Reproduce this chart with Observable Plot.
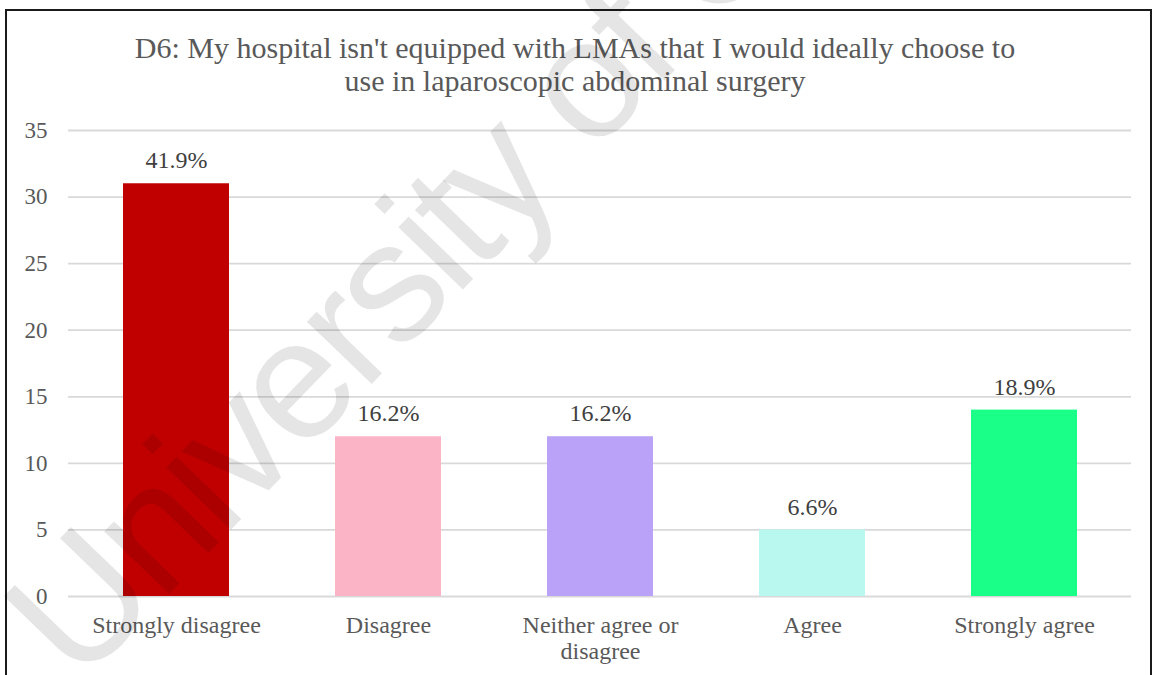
<!DOCTYPE html>
<html>
<head>
<meta charset="utf-8">
<script src="https://cdn.jsdelivr.net/npm/d3@7"></script>
<script src="https://cdn.jsdelivr.net/npm/@observablehq/plot@0.6"></script>
<style>
  html, body { margin: 0; padding: 0; background: #fff; overflow: hidden; }
  #wrap { position: relative; width: 1162px; height: 675px; overflow: hidden; }
  #frame {
    position: absolute; left: 5px; top: 9px; width: 1147px; height: 700px;
    border: 2px solid #1a1a1a; box-sizing: border-box; pointer-events: none;
  }
  #title {
    font-family: "Liberation Serif", "Times New Roman", serif;
    font-size: 30px; line-height: 33px; color: #595959;
    text-align: center; box-sizing: border-box;
    width: 1150px; height: 105px; padding-top: 31px;
  }
  #mark {
    position: absolute; left: 0; top: 0; white-space: nowrap;
    font-family: "Liberation Sans", Arial, sans-serif; font-size: 170px; line-height: normal;
    letter-spacing: -5px;
    color: rgba(0, 0, 0, 0.1); transform-origin: 0 0; pointer-events: none;
  }
</style>
</head>
<body>
<div id="wrap">
  <div id="title">D6: My hospital isn't equipped with LMAs that I would ideally choose to<br>use in laparoscopic abdominal surgery</div>
  <div id="chart"></div>
  <div id="frame"></div>
  <div id="mark">University of Cape Town</div>
</div>
<script>
// Survey responses (counts) and the percentage shown above each bar
const categories = ["Strongly disagree", "Disagree", "Neither agree or disagree", "Agree", "Strongly agree"];
const axisLabels = ["Strongly disagree", "Disagree", "Neither agree or\ndisagree", "Agree", "Strongly agree"];
const counts = [31, 12, 12, 5, 14];
const percentLabels = ["41.9%", "16.2%", "16.2%", "6.6%", "18.9%"];
const barColors = ["#C00000", "#FAB4C6", "#B9A2F8", "#B8F8EE", "#19FF87"];
const yTicks = [0, 5, 10, 15, 20, 25, 30, 35];

const rows = categories.map((c, i) => ({category: c, count: counts[i], label: percentLabels[i]}));
const labelOf = new Map(categories.map((c, i) => [c, axisLabels[i]]));

const serif = "Liberation Serif, Times New Roman, serif";

const chart = Plot.plot({
  width: 1162,
  height: 570,
  marginLeft: 68,
  marginRight: 31,
  marginTop: 25,
  marginBottom: 79,
  style: {fontFamily: serif, fontSize: "23px", color: "#595959", background: "transparent"},
  x: {domain: categories, paddingInner: 0.5, paddingOuter: 0.25, label: null},
  y: {domain: [0, 35], label: null},
  color: {domain: categories, range: barColors},
  marks: [
    Plot.ruleY(yTicks, {stroke: "#d9d9d9", strokeWidth: 1.8}),
    Plot.barY(rows, {x: "category", y: "count", fill: "category"}),
    Plot.text(rows, {
      x: "category", y: "count", text: "label", dy: -23,
      fill: "#404040", fontSize: 24, fontFamily: serif
    }),
    Plot.axisY({ticks: yTicks, tickSize: 0, tickPadding: 21, fontSize: 23, fill: "#595959"}),
    Plot.axisX({
      tickSize: 0, tickPadding: 17, fontSize: 24, fill: "#595959",
      tickFormat: d => labelOf.get(d), lineHeight: 1.12
    })
  ]
});
document.getElementById("chart").appendChild(chart);

// Faint diagonal watermark across the chart
document.getElementById("mark").style.transform = "translate(-34px, 578px) rotate(-46deg)";
</script>
</body>
</html>
